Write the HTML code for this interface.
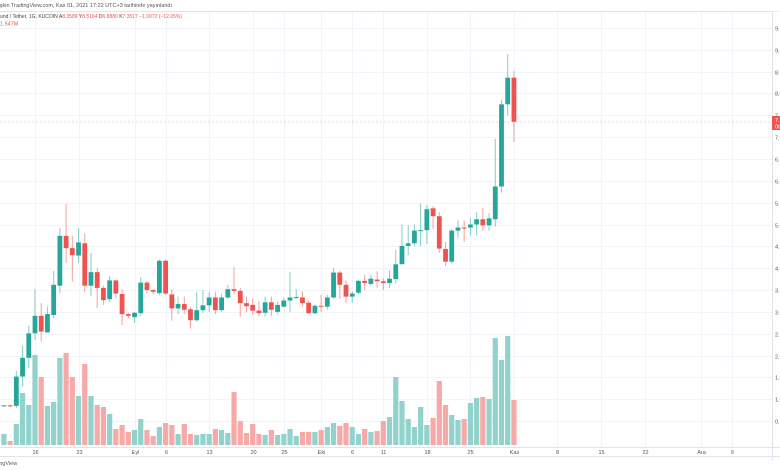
<!DOCTYPE html>
<html><head><meta charset="utf-8"><style>
html,body{margin:0;padding:0;background:#fff;width:780px;height:470px;overflow:hidden;font-family:"Liberation Sans",sans-serif;}
svg{display:block}
</style></head><body>
<svg id="chart" width="780" height="470">
<text x="-6" y="7" font-size="5.5" fill="#555">tlaşkin TradingView.com, Kas 01, 2021 17:22 UTC+3 tarihinde yayınlandı</text>
<line x1="0" y1="11.5" x2="780" y2="11.5" stroke="#e0e3eb"/>
<g id="grid"></g>
<g id="vol"></g>
<g id="candles"></g>
<line x1="0" y1="122" x2="772" y2="122" stroke="#ef5350" stroke-dasharray="2,2" stroke-width="0.6" opacity="0.5"/>
<rect x="772" y="11.5" width="8" height="436" fill="#fff"/>
<line x1="772.5" y1="11" x2="772.5" y2="460" stroke="#e0e3eb"/>
<g id="yaxis"></g>
<rect x="772" y="116" width="8" height="14" fill="#ef5350"/>
<text x="775" y="122" font-size="5.5" fill="#fff">7.3517</text>
<text x="775" y="128.5" font-size="5.5" fill="#fff">06:37:42</text>
<line x1="0" y1="447.5" x2="780" y2="447.5" stroke="#e0e3eb"/>
<g id="xaxis"></g>
<line x1="0" y1="456.5" x2="780" y2="456.5" stroke="#e0e3eb"/>
<text x="-2" y="465" font-size="5.5" fill="#555">ingView</text>
<text x="-3" y="18" font-size="5" fill="#444">Fund / Tether, 1G, KUCOIN  <tspan fill="#444">A</tspan><tspan fill="#ef5350">8.3589</tspan> <tspan fill="#444">Y</tspan><tspan fill="#ef5350">8.5164</tspan> <tspan fill="#444">D</tspan><tspan fill="#ef5350">6.8880</tspan> <tspan fill="#444">K</tspan><tspan fill="#ef5350">7.3517</tspan> <tspan fill="#ef5350">−1.0072 (−12.05%)</tspan></text>
<text x="0" y="25.5" font-size="5.5" fill="#ef5350">1.547M</text>
</svg>
<script>
const opens=[0.84,0.86,0.85,1.52,1.95,2.51,2.91,2.53,2.93,3.6,4.74,4.46,4.29,4.57,3.6,3.91,3.55,3.29,3.72,3.41,2.95,2.88,2.97,3.67,3.5,3.43,4.17,3.4,3.08,3.18,3.06,2.81,3.04,3.15,3.33,3.04,3.33,3.52,3.48,3.2,3.16,3.03,2.98,3.22,3.0,3.12,3.26,3.33,3.33,3.21,2.97,3.14,3.12,3.33,3.9,3.62,3.35,3.44,3.71,3.64,3.74,3.7,3.66,3.75,4.09,4.51,4.57,4.86,4.87,5.37,5.19,4.44,4.15,4.86,4.93,4.93,5.0,5.12,4.98,5.12,5.87,7.75,8.3589];
const closes=[0.86,0.85,1.52,1.95,2.51,2.91,2.55,2.95,3.62,4.74,4.46,4.3,4.59,3.6,3.91,3.55,3.27,3.72,3.42,2.95,2.91,2.98,3.67,3.5,3.46,4.17,3.42,3.08,3.18,3.05,2.81,3.04,3.15,3.33,3.04,3.33,3.52,3.48,3.2,3.13,3.03,2.97,3.22,3.05,3.16,3.26,3.33,3.34,3.2,2.97,3.14,3.12,3.33,3.9,3.62,3.35,3.42,3.71,3.66,3.76,3.7,3.66,3.76,4.09,4.51,4.57,4.86,4.87,5.35,5.19,4.45,4.15,4.86,4.93,4.92,5.0,5.12,4.98,5.14,5.87,7.75,8.36,7.3517];
const highs=[0.87,0.88,1.65,2.23,2.68,3.52,3.2,3.12,3.94,4.92,5.47,4.74,4.92,4.8,4.35,4.0,3.6,3.82,3.74,3.52,2.98,3.0,3.8,3.7,3.52,4.2,4.2,3.52,3.35,3.35,3.1,3.46,3.5,3.46,3.46,3.42,3.62,4.03,3.55,3.35,3.3,3.25,3.35,3.35,3.24,3.32,3.92,3.52,3.46,3.26,3.17,3.39,3.39,4.0,3.94,3.72,3.47,3.74,3.85,3.85,3.93,3.77,3.95,4.42,5.0,4.99,5.0,5.48,5.45,5.42,5.28,4.6,4.9,5.1,5.1,5.15,5.28,5.38,5.26,6.96,7.86,8.9,8.5164];
const lows=[0.83,0.82,0.8,1.29,1.72,2.36,2.32,2.55,2.85,3.43,4.12,3.69,4.12,3.46,3.37,3.09,3.16,3.22,3.31,2.7,2.85,2.75,2.9,3.42,3.4,3.38,3.38,2.8,2.95,2.95,2.62,2.78,2.98,3.0,2.95,3.0,3.3,3.4,2.89,3.0,2.93,2.9,2.89,2.9,2.96,3.1,3.0,3.3,3.12,2.95,2.95,3.0,3.05,3.3,3.3,3.2,3.2,3.4,3.5,3.6,3.55,3.5,3.55,3.65,4.25,4.3,4.5,4.5,4.55,4.9,4.35,4.05,4.1,4.7,4.6,4.75,4.75,4.85,4.85,4.95,5.73,7.5,6.888];
const volumes=[11,4,21,52,40,90,68,39,43,87,92,68,49,81,49,40,38,31,16,20,13,15,26,15,9,18,22,20,11,21,11,10,11,11,16,15,12,53,24,12,21,11,10,15,10,11,16,9,13,13,13,15,18,22,19,22,18,11,16,13,14,24,28,68,44,26,18,38,20,27,64,40,30,25,26,42,47,48,46,107,85,109,45];
const priceTicks=[0.5,1,1.5,2,2.5,3,3.5,4,4.5,5,5.5,6,6.5,7,7.5,8,8.5,9,9.5];
const dateLabels=["16","23","Eyl","6","13","20","25","Eki","6","11","18","25","Kas","8","15","22","Ara","6"];
const dateIdx=[5,12,21,26,33,40,45,51,56,61,68,75,82,89,96,103,112,117];

const NS="http://www.w3.org/2000/svg";
const xOf=i=>3.9+i*6.22;
const yOf=p=>443-43.7*p;
const vY=v=>445-v;
function mk(tag,attrs,parent){const e=document.createElementNS(NS,tag);for(const k in attrs)e.setAttribute(k,attrs[k]);parent.appendChild(e);return e;}
const grid=document.getElementById('grid'),vol=document.getElementById('vol'),cg=document.getElementById('candles'),ya=document.getElementById('yaxis'),xa=document.getElementById('xaxis');
priceTicks.forEach(p=>{
  const y=Math.round(yOf(p))+0.5;
  const l=mk('line',{x1:0,x2:772,y1:y,y2:y,stroke:'#f0f3fa','stroke-width':1},grid);
  
  
  const t=mk('text',{x:775,y:y+2,'font-size':5.5,fill:'#555'},ya);
  t.textContent=p.toFixed(4);
  
  
});
dateIdx.forEach((d,k)=>{
  const x=Math.round(xOf(d))+0.5;
  const l=mk('line',{x1:x,x2:x,y1:12,y2:447,stroke:'#f0f3fa','stroke-width':1},grid);
  
  
  const t=mk('text',{x:x,y:454,'font-size':5.5,fill:'#555','text-anchor':'middle'},xa);
  t.textContent=dateLabels[k];
  
  
});
volumes.forEach((v,i)=>{
  const up=closes[i]>=opens[i];
  const r=mk('rect',{x:xOf(i)-2.6,y:vY(v),width:5.2,height:v,fill:up?'#92d2cc':'#f7a9a7'},vol);
  
  
});
opens.forEach((o,i)=>{
  const c=closes[i],up=c>=o,col=up?'#26a69a':'#ef5350',x=xOf(i);
  const w=mk('line',{x1:x,x2:x,y1:yOf(highs[i]),y2:yOf(lows[i]),stroke:col,'stroke-width':1,opacity:0.55},cg);
  
  
  const top=yOf(Math.max(o,c)),h=Math.max(1,Math.abs(yOf(o)-yOf(c)));
  const b=mk('rect',{x:x-2.4,y:top,width:4.8,height:h,fill:col},cg);
  
  
});
</script>
</body></html>
